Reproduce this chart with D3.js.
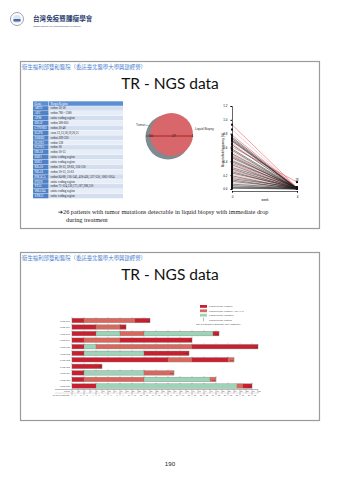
<!DOCTYPE html>
<html><head><meta charset="utf-8">
<script src="https://cdn.jsdelivr.net/npm/d3@7"></script>
<style>html,body{margin:0;padding:0;background:#fff;}svg{display:block;}</style>
</head><body>
<script>
// ---------- DATA ----------
const headerText = "衛生福利部雙和醫院（委託臺北醫學大學興建經營）";
const slideTitle = "TR - NGS data";
const tableHead = ["Gene", "Target Region"];
const tableGenes = ["AKT1","APC","ATM","BRAF","CTNNB1","EGFR","ERBB2","FGFR2","FGFR3","HRAS","IDH1","IDH2","KRAS","NRAS","PIK3CA","PTEN","TP53","SMAD4","STK11"];
const tableRegions = ["codon 16-18","codon 780 - 1580","entire coding region","codon 580-605","codon 30-48","exon 12,13,18,19,20,21","codon 309-320","codon 138","codon 18","codon 10-13","entire coding region","entire coding region","codon 10-13, 59-63, 116-150","codon 10-13, 55-61","codon 84-88, 116-146, 418-436, 527-550, 1002-1054","entire coding region","codon 71-124,130,171,187,288,310","entire coding region","entire coding region"];
const vennSets = ["Tumor", "Liquid Biopsy"];
const vennCounts = ["50", "27", "1"];
const noteLines = ["\u279426 patients with tumor mutations detectable in liquid biopsy with immediate drop", "during treatment"];

// slope chart: mutant allele frequency at week 0 and week 4
const weeks = [0, 4];
const mafStart = [0.93,0.86,0.78,0.75,0.73,0.71,0.70,0.69,0.66,0.64,0.61,0.58,0.56,0.53,0.51,0.49,0.47,0.45,0.43,0.41,0.39,0.37,0.35,0.33,0.31,0.29,0.27,0.25,0.23,0.21,0.19,0.17,0.15,0.13,0.11,0.09,0.07,0.05,0.03,0.02,0.01];
const mafEnd   = [0.02,0.01,0.02,0.01,0.00,0.01,0.02,0.01,0.00,0.01,0.10,0.01,0.00,0.02,0.01,0.00,0.01,0.02,0.00,0.01,0.02,0.01,0.00,0.01,0.02,0.00,0.01,0.00,0.02,0.01,0.00,0.01,0.02,0.00,0.01,0.00,0.01,0.00,0.01,0.00,0.00];
const mafGroup = ["r","p","r","k","k","k","r","k","p","k","r","k","k","p","k","r","k","k","p","k","k","r","k","p","k","k","r","k","k","p","k","r","k","k","k","p","k","k","k","k","k"];
const yTicks = [0, 0.2, 0.4, 0.6, 0.8, 1.0, 1.2];

// swimmer plot: per patient, segments [startWeek, endWeek, status]
const patients = ["KMD-101","KMD-104","KMD-107","KMD-109","KMD-111","KMD-112","KMD-113","KMD-115","KMD-116","KMD-118","KMD-120"];
const segments = [
  [[0,4,"pos"],[4,21,"low"],[21,26,"pos"]],
  [[0,8,"pos"],[8,16,"low"],[16,18,"pos"]],
  [[0,8,"pos"],[8,16,"neg"],[16,24,"low"],[24,47,"neg"],[47,49,"pos"]],
  [[0,4,"pos"],[4,16,"low"],[16,40,"pos"]],
  [[0,4,"pos"],[4,8,"neg"],[8,40,"low"],[40,62,"pos"]],
  [[0,4,"pos"],[4,24,"neg"],[24,39,"pos"]],
  [[0,32,"pos"],[32,40,"low"],[40,52,"pos"],[52,54,"low"]],
  [[0,10,"pos"]],
  [[0,4,"pos"],[4,24,"neg"],[24,34,"low"]],
  [[0,4,"pos"],[4,24,"low"],[24,46,"neg"],[46,48,"low"]],
  [[0,8,"pos"],[8,55,"neg"],[55,57,"low"],[57,60,"pos"]]
];
const legendLabels = ["Liquid biopsy positive","Liquid biopsy positive <1% VAF","Liquid biopsy negative","Liquid biopsy testing","PD: Progressive Disease (acc. RECIST)"];

// ---------- DRAW ----------
const W = 340, H = 481;
const svg = d3.select("body").append("svg").attr("width", W).attr("height", H);
const cjk = "'Noto Sans CJK TC','Noto Sans CJK SC',sans-serif";

// logo
const logo = svg.append("g");
logo.append("circle").attr("cx",17).attr("cy",19).attr("r",6.5).attr("fill","#fff").attr("stroke","#9aa3b5").attr("stroke-width",1);
logo.append("circle").attr("cx",17).attr("cy",19).attr("r",4).attr("fill","#dfe4ee");
logo.append("rect").attr("x",13.5).attr("y",19).attr("width",7).attr("height",2.5).attr("fill","#4a6aa8");
logo.append("text").attr("x",33).attr("y",21).attr("font-family",cjk).attr("font-weight","bold").attr("font-size",6.6).attr("fill","#2c3e6e").text("台灣免疫暨腫瘤學會");
logo.append("text").attr("x",33).attr("y",26.5).attr("font-family","Liberation Sans").attr("font-size",2.4).attr("fill","#2c3e6e").text("Taiwan Society for Immunotherapy of Cancer");

function slideFrame(y0, y1) {
  svg.append("rect").attr("x",20.5).attr("y",y0+0.5).attr("width",299).attr("height",y1-y0).attr("fill","#fff").attr("stroke","#9b9b9b").attr("stroke-width",1.2);
  svg.append("text").attr("x",22).attr("y",y0+7.5).attr("font-family",cjk).attr("font-size",5.4).attr("fill","#4a7fd0").text(headerText);
  svg.append("text").attr("x",170).attr("y",y0+28).attr("text-anchor","middle").attr("font-family","Lato, 'Open Sans', sans-serif").attr("font-size",15.5).attr("fill","#111").text(slideTitle);
}
slideFrame(61, 228);
slideFrame(252, 420);

// ---- table ----
const tbl = svg.append("g");
const rowH = 4.87, tY = 101.3, c1 = 33, c1w = 15.5, c2 = 49, c2w = 74;
const rows = [tableHead].concat(tableGenes.map((g,i)=>[g, tableRegions[i]]));
rows.forEach((r,i)=>{
  const y = tY + i*rowH;
  const head = i===0;
  tbl.append("rect").attr("x",c1).attr("y",y).attr("width",c1w).attr("height",rowH-0.4).attr("fill", head?"#5b8fd3":"#4f81c6");
  tbl.append("rect").attr("x",c2).attr("y",y).attr("width",c2w).attr("height",rowH-0.4).attr("fill", head?"#5b8fd3":(i%2? "#d3deef":"#e8eef8"));
  tbl.append("text").attr("x",c1+1.5).attr("y",y+rowH*0.68).attr("font-family","Liberation Serif").attr("font-size",3.2).attr("fill","#fff").text(r[0]);
  tbl.append("text").attr("x",c2+1.5).attr("y",y+rowH*0.68).attr("font-family","Liberation Serif").attr("font-size",3.0).attr("fill",head?"#fff":"#222").text(r[1]);
});

// note text
noteLines.forEach((t,i)=>{
  svg.append("text").attr("x", i===0?58:66).attr("y", 214 + i*7.5).attr("font-family","Liberation Serif").attr("font-size",6.3).attr("fill","#222").text(t);
});

// ---- venn ----
const venn = svg.append("g");
venn.append("circle").attr("cx",168).attr("cy",137).attr("r",22.5).attr("fill","#7e8b92");
venn.append("circle").attr("cx",171.5).attr("cy",134.5).attr("r",21.5).attr("fill","#d7676a");
venn.append("line").attr("x1",146).attr("x2",193).attr("y1",136).attr("y2",136).attr("stroke","#9b1117").attr("stroke-width",0.8);
venn.append("text").attr("x",136).attr("y",126).attr("font-family","Liberation Sans").attr("font-size",3.2).attr("fill","#333").text(vennSets[0]);
venn.append("line").attr("x1",145).attr("x2",150).attr("y1",125).attr("y2",126).attr("stroke","#555").attr("stroke-width",0.4);
venn.append("text").attr("x",195).attr("y",130).attr("font-family","Liberation Sans").attr("font-size",3.2).attr("fill","#333").text(vennSets[1]);
[[151,vennCounts[0]],[174,vennCounts[1]],[192.5,vennCounts[2]]].forEach(d=>{
  venn.append("text").attr("x",d[0]).attr("y",137.3).attr("text-anchor","middle").attr("font-family","Liberation Sans").attr("font-size",3.5).attr("fill","#222").text(d[1]);
});

// ---- slope chart ----
const xS = d3.scaleLinear().domain([0,4]).range([232,297]);
const yS = d3.scaleLinear().domain([0,1.2]).range([189,106]);
const sc = svg.append("g");
const yAx = sc.append("g").attr("transform","translate(232,0)").call(d3.axisLeft(yS).tickValues(yTicks).tickFormat(d3.format(".1f")).tickSize(1.5));
yAx.selectAll("text").attr("font-size",3).attr("font-family","Liberation Sans");
yAx.select(".domain").attr("stroke-width",0.6);
const xAx = sc.append("g").attr("transform","translate(0,191)").call(d3.axisBottom(xS).tickValues(weeks).tickFormat(d3.format("d")).tickSize(1.5));
xAx.selectAll("text").attr("font-size",3).attr("font-family","Liberation Sans");
xAx.select(".domain").attr("stroke-width",0.6);
sc.append("text").attr("x",265).attr("y",200.5).attr("text-anchor","middle").attr("font-size",3).attr("font-family","Liberation Sans").text("week");
sc.append("text").attr("transform","translate(224,150) rotate(-90)").attr("text-anchor","middle").attr("font-size",2.8).attr("font-family","Liberation Sans").text("Mutant allele frequency (%)");
const colMap = {k:"#1a1a1a", r:"#e0444c", p:"#f29c9c"};
const order = d3.range(mafStart.length).sort((a,b)=> (mafGroup[a]==="k") - (mafGroup[b]==="k"));
order.forEach(i=>{
  sc.append("line").attr("x1",xS(0)).attr("x2",xS(4)).attr("y1",yS(mafStart[i])).attr("y2",yS(mafEnd[i]))
    .attr("stroke",colMap[mafGroup[i]]).attr("stroke-width",0.5);
});
mafStart.forEach((v,i)=>{
  sc.append("rect").attr("x",xS(0)-1).attr("y",yS(v)-1).attr("width",2).attr("height",2).attr("fill","#111");
  sc.append("rect").attr("x",xS(4)-1).attr("y",yS(mafEnd[i])-1).attr("width",2).attr("height",2).attr("fill","#111");
});
sc.append("text").attr("x",xS(4)).attr("y",yS(0.1)-1.5).attr("text-anchor","middle").attr("font-size",2.6).attr("font-family","Liberation Sans").text("28");

// ---- swimmer ----
const xW = d3.scaleLinear().domain([0,62]).range([72,258]);
const yP = d3.scaleBand().domain(patients).range([317,389.5]).paddingInner(0.34).paddingOuter(0.2);
const statusCol = {pos:"#c8202e", low:"#d9675b", neg:"#9dd3b6"};
const sw = svg.append("g");
patients.forEach((p,i)=>{
  const segs = segments[i];
  const end = segs[segs.length-1][1];
  const y = yP(p), h = yP.bandwidth();
  sw.append("rect").attr("x",xW(0)-0.4).attr("y",y-0.4).attr("width",xW(end)-xW(0)+0.8).attr("height",h+0.8).attr("fill","#c9c9c9");
  segs.forEach(s=>{
    sw.append("rect").attr("x",xW(s[0])).attr("y",y).attr("width",xW(s[1])-xW(s[0])).attr("height",h).attr("fill",statusCol[s[2]]).attr("stroke","#777").attr("stroke-width",0.2);
  });
  for (let w=0; w<=end; w+=4) {
    sw.append("line").attr("x1",xW(w)).attr("x2",xW(w)).attr("y1",y-1.3).attr("y2",y+0.3).attr("stroke","#777").attr("stroke-width",0.35);
  }
  sw.append("text").attr("x",70).attr("y",y+h*0.8).attr("text-anchor","end").attr("font-size",2.4).attr("font-family","Liberation Sans").attr("fill","#444").text(p);
  sw.append("text").attr("x",xW(end)-1).attr("y",y+h*0.75).attr("text-anchor","end").attr("font-size",2.2).attr("font-family","Liberation Sans").attr("fill","#333").text("PD");
});
// axis rows
const axY = 389.5;
sw.append("line").attr("x1",55).attr("x2",xW(62)).attr("y1",axY).attr("y2",axY).attr("stroke","#555").attr("stroke-width",0.4);
sw.append("line").attr("x1",55).attr("x2",xW(62)).attr("y1",axY+3.6).attr("y2",axY+3.6).attr("stroke","#999").attr("stroke-width",0.3);
d3.range(0,63,2).forEach(w=>{
  sw.append("line").attr("x1",xW(w)).attr("x2",xW(w)).attr("y1",axY).attr("y2",axY+(w%4===0?6:3.6)).attr("stroke","#555").attr("stroke-width",0.35);
  sw.append("text").attr("x",xW(w)+0.4).attr("y",axY+2.8).attr("font-size",1.9).attr("font-family","Liberation Sans").attr("fill","#444").text(w);
});
d3.range(1,32).forEach(c=>{
  sw.append("text").attr("x",xW(c*2-1)).attr("y",axY+6.2).attr("text-anchor","middle").attr("font-size",1.9).attr("font-family","Liberation Sans").attr("fill","#444").text(c);
});
sw.append("text").attr("x",70).attr("y",axY+2.6).attr("text-anchor","end").attr("font-size",2.4).attr("font-family","Liberation Sans").attr("fill","#444").text("Week");
sw.append("text").attr("x",70).attr("y",axY+6.2).attr("text-anchor","end").attr("font-size",2.4).attr("font-family","Liberation Sans").attr("fill","#444").text("Cycle of therapy");
// legend
const lg = svg.append("g");
legendLabels.forEach((t,i)=>{
  const y = 305 + i*4.4;
  if (i<3) lg.append("rect").attr("x",200).attr("y",y).attr("width",7).attr("height",2.8).attr("fill",statusCol[["pos","low","neg"][i]]);
  else if (i===3) {
    lg.append("line").attr("x1",203.5).attr("x2",203.5).attr("y1",y-0.5).attr("y2",y+3).attr("stroke","#444").attr("stroke-width",0.4);
  }
  lg.append("text").attr("x", i===4?196:209).attr("y",y+2.4).attr("font-size",2.5).attr("font-family","Liberation Sans").attr("fill","#444").text(t);
});

// page number
svg.append("text").attr("x",170).attr("y",466).attr("text-anchor","middle").attr("font-family","Liberation Sans").attr("font-size",6.2).attr("fill","#222").text("190");
</script>
</body></html>
